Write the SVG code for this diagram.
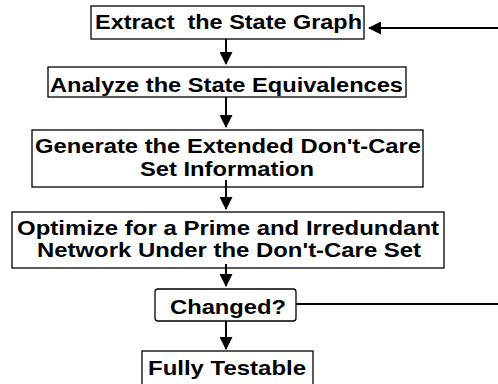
<svg xmlns="http://www.w3.org/2000/svg" width="498" height="384" viewBox="0 0 498 384">
  <style>
    .box { fill: #ffffff; stroke: #000000; stroke-width: 1.3; }
    .lbl { font-family: "Liberation Sans", Arial, sans-serif; font-weight: bold; font-size: 21px; fill: #000000; text-anchor: middle; }
    .edge { stroke: #000000; stroke-width: 2; fill: none; }
  </style>
  <defs>
    <marker id="arrow" markerWidth="13" markerHeight="13" refX="12" refY="6.5" orient="auto" markerUnits="userSpaceOnUse" viewBox="0 0 13 13">
      <path d="M0,0 L13,6.5 L0,13 Z" fill="#000000"/>
    </marker>
  </defs>
  <rect width="498" height="384" fill="#ffffff"/>

  <g id="n-extract">
    <rect class="box" x="91" y="6" width="273" height="33"/>
    <text class="lbl" x="228.5" y="29" xml:space="preserve" textLength="267" lengthAdjust="spacingAndGlyphs">Extract  the State Graph</text>
  </g>
  <g id="n-analyze">
    <rect class="box" x="48" y="67" width="358" height="30"/>
    <text class="lbl" x="226.5" y="92" textLength="353" lengthAdjust="spacingAndGlyphs">Analyze the State Equivalences</text>
  </g>
  <g id="n-generate">
    <rect class="box" x="32" y="130" width="391" height="57"/>
    <text class="lbl" x="228" y="153" textLength="386" lengthAdjust="spacingAndGlyphs">Generate the Extended Don't-Care</text>
    <text class="lbl" x="227" y="176" textLength="174" lengthAdjust="spacingAndGlyphs">Set Information</text>
  </g>
  <g id="n-optimize">
    <rect class="box" x="12" y="212" width="432" height="56"/>
    <text class="lbl" x="228" y="235" textLength="422" lengthAdjust="spacingAndGlyphs">Optimize for a Prime and Irredundant</text>
    <text class="lbl" x="229" y="257" textLength="384" lengthAdjust="spacingAndGlyphs">Network Under the Don't-Care Set</text>
  </g>
  <g id="n-changed">
    <rect class="box" x="155" y="289" width="141" height="32" rx="3" ry="3"/>
    <text class="lbl" x="228" y="314" textLength="116" lengthAdjust="spacingAndGlyphs">Changed?</text>
  </g>
  <g id="n-testable">
    <rect class="box" x="142" y="351" width="171" height="40"/>
    <text class="lbl" x="227" y="375" textLength="158" lengthAdjust="spacingAndGlyphs">Fully Testable</text>
  </g>

  <g id="connectors">
    <line class="edge" x1="226" y1="39" x2="226" y2="64" marker-end="url(#arrow)"/>
    <line class="edge" x1="226" y1="97" x2="226" y2="127" marker-end="url(#arrow)"/>
    <line class="edge" x1="226" y1="180" x2="226" y2="209" marker-end="url(#arrow)"/>
    <line class="edge" x1="226" y1="264" x2="226" y2="286" marker-end="url(#arrow)"/>
    <line class="edge" x1="226" y1="321" x2="226" y2="349" marker-end="url(#arrow)"/>
    <line class="edge" x1="296" y1="304" x2="498" y2="304"/>
    <line class="edge" x1="498" y1="28" x2="369" y2="28" marker-end="url(#arrow)"/>
  </g>
</svg>
